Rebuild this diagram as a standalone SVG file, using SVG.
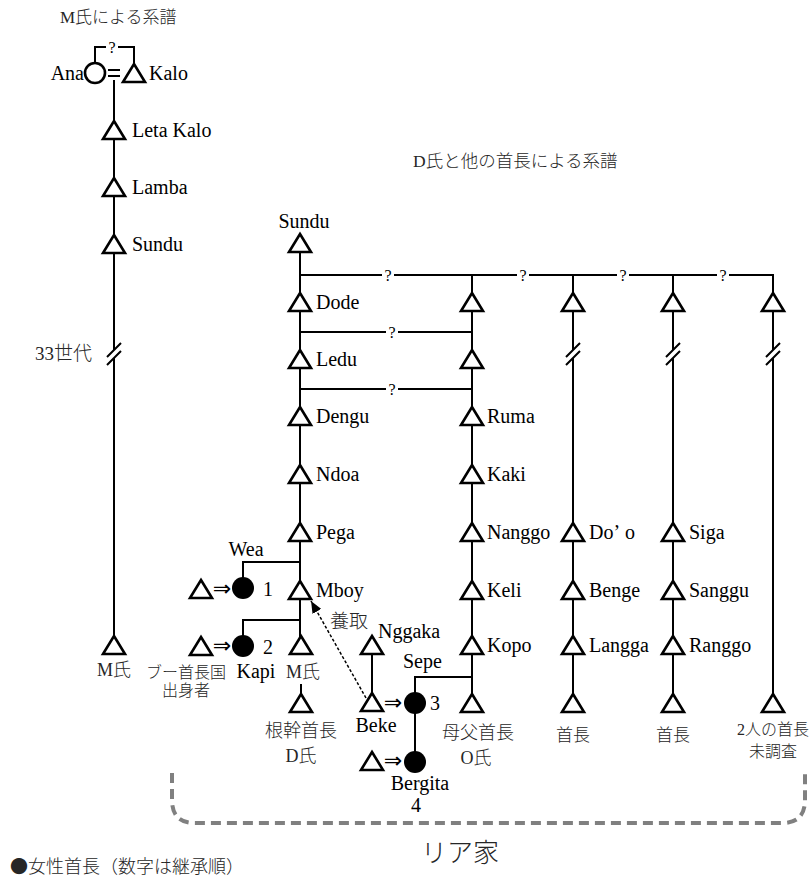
<svg xmlns="http://www.w3.org/2000/svg" xmlns:xlink="http://www.w3.org/1999/xlink" width="812" height="879" viewBox="0 0 812 879">
<style>
.l{stroke:#000;stroke-width:2;fill:none}
.t{fill:#fff;stroke:#000;stroke-width:2.6;stroke-linejoin:miter}
.f{fill:#000}
.n{font-family:"Liberation Serif","Noto Sans CJK JP",serif;font-size:20px;fill:#000}
.j{font-family:"Liberation Serif","Noto Sans CJK JP",serif;fill:#262626;font-weight:300}
.q{font-family:"Liberation Serif",serif;font-size:16px;fill:#000;text-anchor:middle}
.ar{font-family:"DejaVu Sans",sans-serif;font-size:22px;fill:#000;text-anchor:middle}
.c{text-anchor:middle}
.e{text-anchor:end}
</style>
<defs>
<path id="tri" class="t" d="M0,-9 L11,9 L-11,9 Z"/>
<marker id="ah" viewBox="0 0 12 10" refX="12" refY="5" markerWidth="12" markerHeight="10" markerUnits="userSpaceOnUse" orient="auto">
<path d="M0,0 L12,5 L0,10 Z" fill="#000"/>
</marker>
</defs>
<rect width="812" height="879" fill="#fff"/>

<!-- titles -->
<text class="j" x="60" y="23" font-size="17">M氏による系譜</text>
<text class="j" x="413" y="167" font-size="17.5">D氏と他の首長による系譜</text>
<text class="j" x="35" y="360" font-size="19">33世代</text>

<g id="connectors">
<!-- M lineage -->
<path class="l" d="M95,62 V47 H106 M118,47 H134 V64"/>
<path class="l" d="M108,70 H120 M108,76 H120" stroke-width="2.6"/>
<path class="l" d="M114,80 V350 M114,358 V645"/>
<path class="l" d="M107,357 L121,343 M107,365 L121,351"/>
<!-- D main -->
<path class="l" d="M300,243 V645"/>
<path class="l" d="M300,275 H382 M394,275 H517 M529,275 H617 M629,275 H717 M729,275 H773 V350 M773,358 V703"/>
<path class="l" d="M300,332 H386 M398,332 H472 M300,389 H386 M398,389 H472"/>
<path class="l" d="M472,275 V703"/>
<path class="l" d="M573,275 V350 M573,358 V703 M673,275 V350 M673,358 V703"/>
<path class="l" d="M566,357 L580,343 M566,365 L580,351 M666,357 L680,343 M666,365 L680,351 M766,357 L780,343 M766,365 L780,351"/>
<!-- Wea / Kapi -->
<path class="l" d="M300,562 H243 V588 M300,620 H243 V646"/>
<path class="l" d="M301,684 V703"/>
<!-- Sepe / Bergita / Nggaka -->
<path class="l" d="M415,703 V677 H472 M415,703 V762 M372,645 V703"/>
<!-- adoption -->
<path d="M366,698 L311,601" stroke="#000" stroke-width="1.5" stroke-dasharray="3 2" fill="none" marker-end="url(#ah)"/>
<!-- question marks -->
<text class="q" x="112" y="53" font-size="13">?</text>
<text class="q" x="388" y="281">?</text>
<text class="q" x="523" y="281">?</text>
<text class="q" x="623" y="281">?</text>
<text class="q" x="723" y="281">?</text>
<text class="q" x="392" y="338">?</text>
<text class="q" x="392" y="395">?</text>
</g>

<!-- M lineage nodes -->
<g id="ana"><circle cx="95" cy="73" r="10" fill="#fff" stroke="#000" stroke-width="2.6"/><text class="n e" x="84" y="80">Ana</text></g>
<g id="kalo"><use href="#tri" x="134" y="73"/><text class="n" x="149" y="80">Kalo</text></g>
<g id="leta-kalo"><use href="#tri" x="114" y="130"/><text class="n" x="132" y="137">Leta Kalo</text></g>
<g id="lamba"><use href="#tri" x="114" y="187"/><text class="n" x="132" y="194">Lamba</text></g>
<g id="sundu-m"><use href="#tri" x="114" y="244"/><text class="n" x="132" y="251">Sundu</text></g>
<g id="m-shi"><use href="#tri" x="114" y="645"/><text class="j c" x="114" y="676" font-size="18">M氏</text></g>

<!-- D lineage -->
<g id="sundu-d"><use href="#tri" x="300" y="243"/><text class="n c" x="304" y="228">Sundu</text></g>
<g id="dode"><use href="#tri" x="300" y="302"/><text class="n" x="316" y="309">Dode</text></g>
<g id="ledu"><use href="#tri" x="300" y="359"/><text class="n" x="316" y="366">Ledu</text></g>
<g id="dengu"><use href="#tri" x="300" y="416"/><text class="n" x="316" y="423">Dengu</text></g>
<g id="ndoa"><use href="#tri" x="300" y="474"/><text class="n" x="316" y="481">Ndoa</text></g>
<g id="pega"><use href="#tri" x="300" y="532"/><text class="n" x="316" y="539">Pega</text></g>
<g id="mboy"><use href="#tri" x="300" y="590"/><text class="n" x="316" y="597">Mboy</text></g>
<g id="m-shi-d"><use href="#tri" x="301" y="645"/><text class="j c" x="303" y="678" font-size="18">M氏</text></g>
<g id="d-shi"><use href="#tri" x="301" y="703"/><text class="j c" x="301" y="737" font-size="18">根幹首長</text><text class="j c" x="301" y="762" font-size="18">D氏</text></g>

<g id="wea"><use href="#tri" x="201" y="589"/><text class="ar" x="222" y="596">⇒</text><circle class="f" cx="243" cy="588" r="11"/><text class="n c" x="246" y="556">Wea</text><text class="n" x="263" y="596">1</text></g>
<g id="kapi"><use href="#tri" x="201" y="646"/><text class="ar" x="222" y="653">⇒</text><circle class="f" cx="243" cy="646" r="11"/><text class="n" x="263" y="654">2</text><text class="n c" x="256" y="678">Kapi</text><text class="j c" x="186" y="678" font-size="16">ブー首長国</text><text class="j c" x="186" y="696" font-size="16">出身者</text></g>

<g id="adoption-label"><text class="j" x="330" y="628" font-size="19">養取</text></g>

<g id="nggaka"><use href="#tri" x="372" y="645"/><text class="n" x="378" y="638">Nggaka</text></g>
<g id="beke"><use href="#tri" x="372" y="702"/><text class="n c" x="376" y="732">Beke</text></g>
<g id="sepe"><text class="ar" x="393" y="710">⇒</text><circle class="f" cx="415" cy="703" r="11"/><text class="n" x="403" y="668">Sepe</text><text class="n" x="430" y="710">3</text></g>
<g id="bergita"><use href="#tri" x="372" y="761"/><text class="ar" x="393" y="768">⇒</text><circle class="f" cx="415" cy="762" r="11"/><text class="n c" x="420" y="790">Bergita</text><text class="n c" x="416" y="812">4</text></g>

<!-- Column 2 -->
<g id="c2-1"><use href="#tri" x="472" y="302"/></g>
<g id="c2-2"><use href="#tri" x="472" y="359"/></g>
<g id="ruma"><use href="#tri" x="472" y="416"/><text class="n" x="487" y="423">Ruma</text></g>
<g id="kaki"><use href="#tri" x="472" y="474"/><text class="n" x="487" y="481">Kaki</text></g>
<g id="nanggo"><use href="#tri" x="472" y="532"/><text class="n" x="487" y="539">Nanggo</text></g>
<g id="keli"><use href="#tri" x="472" y="590"/><text class="n" x="487" y="597">Keli</text></g>
<g id="kopo"><use href="#tri" x="472" y="645"/><text class="n" x="487" y="652">Kopo</text></g>
<g id="o-shi"><use href="#tri" x="472" y="703"/><text class="j c" x="478" y="739" font-size="18">母父首長</text><text class="j c" x="476" y="764" font-size="18">O氏</text></g>

<!-- Column 3 -->
<g id="c3-1"><use href="#tri" x="573" y="302"/></g>
<g id="doo"><use href="#tri" x="573" y="532"/><text class="n" x="589" y="539">Do’<tspan dx="5">o</tspan></text></g>
<g id="benge"><use href="#tri" x="573" y="590"/><text class="n" x="589" y="597">Benge</text></g>
<g id="langga"><use href="#tri" x="573" y="645"/><text class="n" x="589" y="652">Langga</text></g>
<g id="c3-chief"><use href="#tri" x="573" y="703"/><text class="j c" x="573" y="741" font-size="17">首長</text></g>

<!-- Column 4 -->
<g id="c4-1"><use href="#tri" x="673" y="302"/></g>
<g id="siga"><use href="#tri" x="673" y="532"/><text class="n" x="689" y="539">Siga</text></g>
<g id="sanggu"><use href="#tri" x="673" y="590"/><text class="n" x="689" y="597">Sanggu</text></g>
<g id="ranggo"><use href="#tri" x="673" y="645"/><text class="n" x="689" y="652">Ranggo</text></g>
<g id="c4-chief"><use href="#tri" x="673" y="703"/><text class="j c" x="673" y="741" font-size="17">首長</text></g>

<!-- Column 5 -->
<g id="c5-1"><use href="#tri" x="773" y="302"/></g>
<g id="c5-chief"><use href="#tri" x="773" y="703"/><text class="j c" x="773" y="735" font-size="16">2人の首長</text><text class="j c" x="773" y="757" font-size="16">未調査</text></g>

<!-- Lia house bracket -->
<g id="lia-house">
<path d="M172,773 V800 Q172,823 195,823 H782 Q805,823 805,800 V773" fill="none" stroke="#808080" stroke-width="4" stroke-dasharray="10 6"/>
<text class="c" x="460" y="862" font-size="26" font-family="Noto Sans CJK JP, sans-serif" font-weight="300" fill="#262626">リア家</text>
</g>

<g id="legend"><text x="10" y="873" font-size="18" font-family="Noto Sans CJK JP, sans-serif" font-weight="300" fill="#262626">●女性首長（数字は継承順）</text></g>
</svg>
